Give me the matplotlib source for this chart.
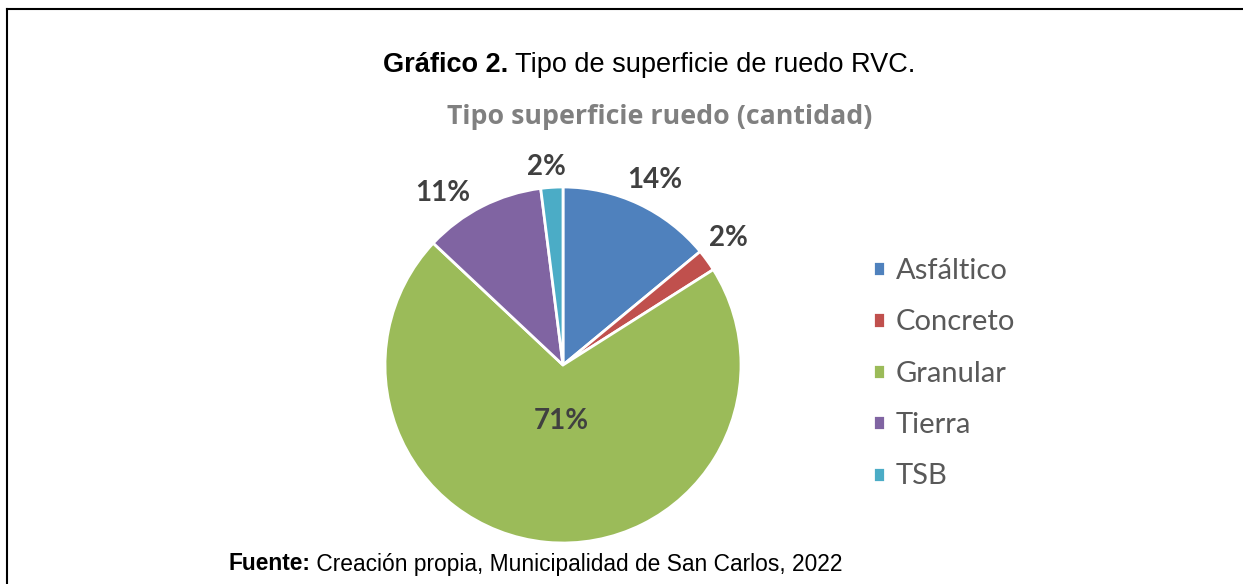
import numpy as np
import matplotlib
matplotlib.use('Agg')
import matplotlib.pyplot as plt
from matplotlib.lines import Line2D

# data
categories = ['Asfáltico', 'Concreto', 'Granular', 'Tierra', 'TSB']
percent = [14, 2, 71, 11, 2]
colors = ['#4F81BD', '#C0504D', '#9BBB59', '#8064A2', '#4BACC6']

W, H = 1243, 584
fig = plt.figure(figsize=(W / 100, H / 100), dpi=100)

# pie centre / radius in pixels
cx, cy, r = 563, 365, 178
ax = fig.add_axes([(cx - r) / W, (H - cy - r) / H, 2 * r / W, 2 * r / H])
wedges, _ = ax.pie(percent, colors=colors, startangle=90, counterclock=False,
                   radius=1.0, wedgeprops=dict(edgecolor='white', linewidth=2))
ax.set_xlim(-1, 1)
ax.set_ylim(-1, 1)
ax.set_aspect('equal')
ax.axis('off')

# excel "best fit" label placement: distance and angle shift from wedge middle
label_dist = [1.16, 1.17, 0.315, 1.18, 1.115]
label_shift = [-1.3, 1.6, 3.4, 8.0, 1.2]
for w, p, d, s in zip(wedges, percent, label_dist, label_shift):
    ang = np.deg2rad((w.theta1 + w.theta2) / 2 + s)
    ax.text(d * np.cos(ang), d * np.sin(ang), f'{p}%', ha='center', va='center',
            fontsize=20, fontweight='bold', color='#404040', family='Lato')

leg = fig.legend(wedges, categories, loc='upper left', bbox_to_anchor=(873 / W, 1 - 258 / H),
                 frameon=False, prop={'family': 'Lato', 'size': 21}, handlelength=0.42,
                 handleheight=0.42, handletextpad=0.35, labelspacing=0.87, borderpad=0,
                 borderaxespad=0)
for t in leg.get_texts():
    t.set_color('#595959')

fig.text(660 / W, 1 - 117 / H, 'Tipo superficie ruedo (cantidad)', ha='center', va='center',
         fontsize=19.3, fontweight='bold', color='#808080', family='Open Sans')

t1 = fig.text(383 / W, 1 - 65 / H, 'Gráfico 2.', ha='left', va='center', fontsize=19.5,
              fontweight='bold', family='Liberation Sans', color='black')
ax.annotate(' Tipo de superficie de ruedo RVC.', xy=(1, 0.5), xycoords=t1, va='center',
            ha='left', fontsize=19.5, family='Liberation Sans', color='black',
            annotation_clip=False)

t2 = fig.text(228 / W, 1 - 564 / H, 'Fuente:', ha='left', va='center', fontsize=16.4,
              fontweight='bold', family='Liberation Sans', color='black')
ax.annotate(' Creación propia, Municipalidad de San Carlos, 2022', xy=(1, 0.5), xycoords=t2,
            va='center', ha='left', fontsize=16.4, family='Liberation Sans', color='black',
            annotation_clip=False)

# frame lines (top and left) of the cropped figure box
fig.add_artist(Line2D([7 / W, 1], [1 - 9 / H, 1 - 9 / H], color='black', lw=1.5,
                      transform=fig.transFigure))
fig.add_artist(Line2D([7 / W, 7 / W], [0, 1 - 9 / H], color='black', lw=1.5,
                      transform=fig.transFigure))

fig.savefig('out.png', dpi=100, facecolor='white')
